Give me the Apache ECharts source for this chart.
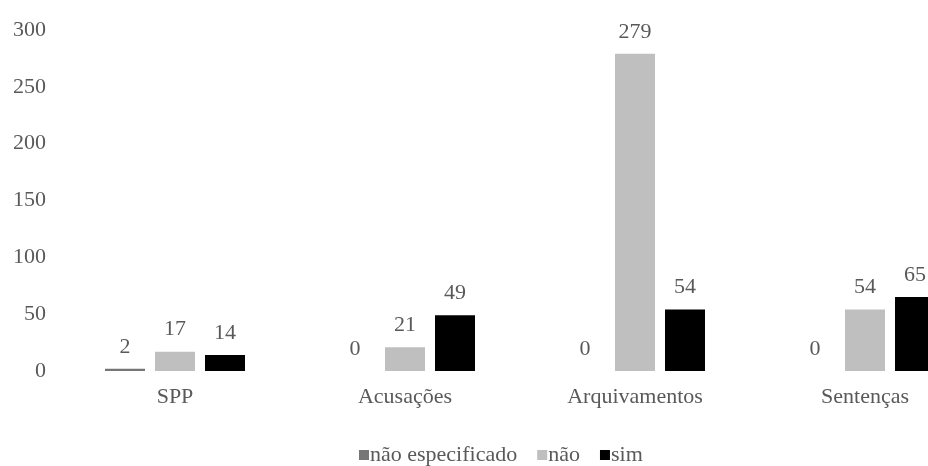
<!DOCTYPE html>
<html>
<head>
<meta charset="utf-8">
<script src="https://cdn.jsdelivr.net/npm/echarts@6/dist/echarts.min.js"></script>
<style>
  html, body { margin: 0; padding: 0; background: #fff; overflow: hidden; }
  #wrap { width: 928px; height: 466px; overflow: hidden; }
  /* the plot is wider than the page: the last category band runs off the right edge */
  #chart { width: 980px; height: 466px; }
</style>
</head>
<body>
<div id="wrap"><div id="chart"></div></div>
<script>
// Categories and counts per answer type
const categories = ['SPP', 'Acusações', 'Arquivamentos', 'Sentenças'];
const naoEspecificado = [2, 0, 0, 0];
const nao = [17, 21, 279, 54];
const sim = [14, 49, 54, 65];
const yTicks = [0, 50, 100, 150, 200, 250, 300];

const FONT = '"Liberation Serif", "DejaVu Serif", serif';
const TEXT = '#595959';
const FS = 22;

const labelStyle = {
  show: true,
  position: 'top',
  distance: 11,
  color: TEXT,
  fontFamily: FONT,
  fontSize: FS
};

const chart = echarts.init(document.getElementById('chart'), null, { renderer: 'canvas' });
chart.setOption({
  animation: false,
  backgroundColor: '#ffffff',
  textStyle: { fontFamily: FONT, color: TEXT },
  grid: { left: 60, top: 30, right: 0, bottom: 95, containLabel: false },
  legend: {
    bottom: -5,
    left: 354,
    itemWidth: 10,
    itemHeight: 10,
    itemGap: 20,
    icon: 'rect',
    textStyle: { fontFamily: FONT, fontSize: FS, color: TEXT, padding: [0, 0, 0, -4] },
    data: ['não especificado', 'não', 'sim']
  },
  xAxis: {
    type: 'category',
    data: categories,
    axisLine: { show: false },
    axisTick: { show: false },
    axisLabel: { color: TEXT, fontFamily: FONT, fontSize: FS, margin: 15 }
  },
  yAxis: {
    type: 'value',
    min: yTicks[0],
    max: yTicks[yTicks.length - 1],
    interval: 50,
    splitLine: { show: false },
    axisLine: { show: false },
    axisTick: { show: false },
    axisLabel: { color: TEXT, fontFamily: FONT, fontSize: FS, margin: 14 }
  },
  series: [
    { name: 'não especificado', type: 'bar', data: naoEspecificado, barWidth: 40, barGap: '25%',
      itemStyle: { color: '#767676' }, label: labelStyle },
    { name: 'não', type: 'bar', data: nao, barWidth: 40, barGap: '25%',
      itemStyle: { color: '#bfbfbf' }, label: labelStyle },
    { name: 'sim', type: 'bar', data: sim, barWidth: 40, barGap: '25%',
      itemStyle: { color: '#000000' }, label: labelStyle }
  ]
});
</script>
</body>
</html>
